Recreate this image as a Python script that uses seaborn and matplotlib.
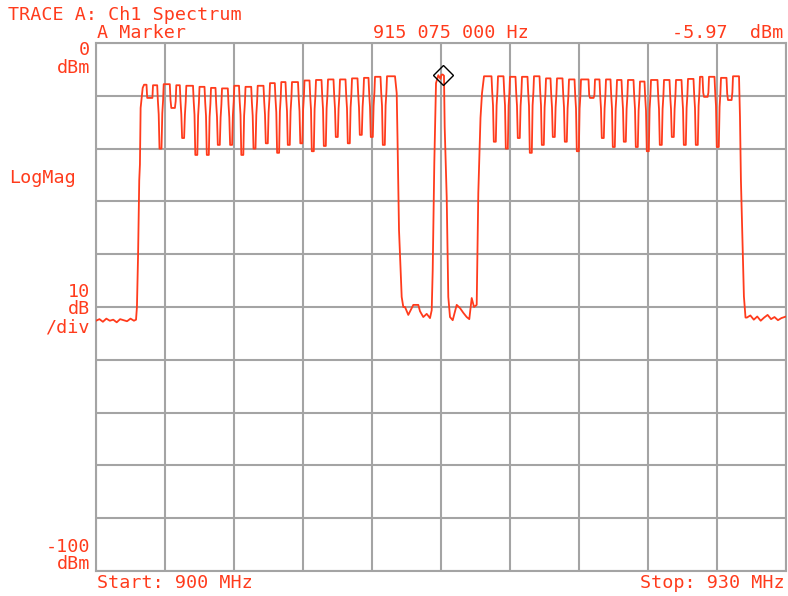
import matplotlib
matplotlib.use("Agg")
import matplotlib.pyplot as plt
import pandas as pd
import seaborn as sns

# ---- instrument settings -------------------------------------------------
START_MHZ, STOP_MHZ = 900.0, 930.0
TOP_DBM, BOTTOM_DBM = 0.0, -100.0
X_TICKS = [900, 903, 906, 909, 912, 915, 918, 921, 924, 927, 930]
Y_TICKS = [0, -10, -20, -30, -40, -50, -60, -70, -80, -90, -100]

marker_freq = 915.075
marker_level = -5.97

# ---- trace: noise floor below the first channel group --------------------
floor_a_freq = [900.00, 900.15, 900.30, 900.45, 900.60, 900.75, 900.90,
                901.05, 901.20, 901.35, 901.50, 901.65, 901.74]
floor_a_level = [-52.6, -52.3, -52.8, -52.2, -52.6, -52.4, -52.9,
                 -52.3, -52.5, -52.7, -52.2, -52.6, -52.4]

rise_a_freq = [901.78, 901.83, 901.88, 901.91, 901.94, 902.03, 902.09]
rise_a_level = [-50.0, -40.0, -26.0, -23.0, -12.3, -8.5, -7.9]

# first channel group: notch positions, notch depths, plateau levels
comb_a_dip_freq = [902.348, 902.813, 903.361, 903.796, 904.370, 904.870,
                   905.348, 905.883, 906.370, 906.900, 907.435, 907.926,
                   908.391, 908.935, 909.435, 909.957, 910.478, 911.000,
                   911.522, 912.000, 912.522]
comb_a_dip_level = [-10.4, -20.0, -12.3, -18.0, -21.2, -21.2, -19.3, -19.3,
                    -21.2, -20.0, -19.0, -20.8, -19.3, -19.0, -20.5, -19.5,
                    -17.8, -19.0, -17.4, -17.8, -19.3]
comb_a_top_level = [-7.9, -8.0, -7.8, -8.0, -8.1, -8.3, -8.5, -8.6, -8.1,
                    -8.3, -8.1, -7.6, -7.4, -7.4, -7.1, -7.0, -6.9, -6.9,
                    -6.7, -6.6, -6.4, -6.3]
comb_a_end = 913.00

fall_a_freq = [913.074, 913.109, 913.174, 913.291, 913.361]
fall_a_level = [-9.5, -18.0, -35.4, -48.1, -50.0]

floor_b_freq = [913.435, 913.578, 913.726, 913.796, 914.013, 914.087,
                914.230, 914.378, 914.522, 914.596]
floor_b_level = [-50.0, -51.5, -50.2, -49.6, -49.6, -50.8, -51.9, -51.3,
                 -52.1, -50.6]

# single carrier at the marker
peak_freq = [914.639, 914.709, 914.783, 914.883, 914.978, 915.020, 915.075,
             915.130, 915.160, 915.248, 915.317]
peak_level = [-43.1, -22.7, -7.6, -6.1, -6.8, -6.0, -5.97, -6.2, -15.9,
              -29.2, -48.1]

floor_c_freq = [915.391, 915.509, 915.683, 915.826, 915.970, 916.117,
                916.230, 916.335, 916.435, 916.552]
floor_c_level = [-51.9, -52.5, -49.6, -50.2, -51.1, -51.9, -52.3, -48.3,
                 -50.0, -49.6]

rise_b_freq = [916.622, 916.717, 916.783, 916.870]
rise_b_level = [-28.4, -14.2, -9.5, -6.3]

# second channel group
comb_b_dip_freq = [917.348, 917.870, 918.391, 918.913, 919.435, 919.913,
                   920.435, 920.957, 921.565, 922.043, 922.522, 923.000,
                   923.522, 924.000, 924.565, 925.087, 925.609, 926.130,
                   926.522, 927.043, 927.565]
comb_b_dip_level = [-18.7, -20.0, -18.0, -20.8, -19.3, -17.8, -18.7, -20.5,
                    -10.4, -18.0, -19.7, -18.7, -19.7, -20.5, -19.3, -17.8,
                    -19.3, -19.3, -10.2, -19.7, -10.8]
comb_b_top_level = [-6.3, -6.3, -6.4, -6.4, -6.3, -6.7, -6.7, -6.9, -6.9,
                    -6.9, -6.9, -7.0, -7.0, -7.3, -7.0, -7.0, -7.0, -6.8,
                    -6.4, -6.4, -6.6, -6.3]
comb_b_end = 927.957

fall_b_freq = [927.999, 928.040, 928.110, 928.170, 928.240]
fall_b_level = [-14.0, -26.0, -38.0, -48.0, -52.0]

floor_d_freq = [928.30, 928.45, 928.60, 928.75, 928.90, 929.05, 929.20,
                929.35, 929.50, 929.65, 929.80, 930.00]
floor_d_level = [-52.0, -51.6, -52.4, -51.8, -52.6, -52.0, -51.5, -52.3,
                 -51.9, -52.5, -52.1, -51.8]

# ---- display styling -----------------------------------------------------
TRACE_COLOR = "#ff3b1c"
TEXT_COLOR = "#ff3b1c"
GRID_COLOR = "#a4a4a4"
W, H = 788, 596
PX_MHZ = 30.0 / 690.0          # one screen column in MHz
FONT_SIZE = 13.2
# (column offset, which level it hangs from, dB below that level)
NOTCH_SHAPE = [(-3.5, "L", 0.0), (-2.8, "L", -3.0), (-2.0, "L", -5.5),
               (-1.2, "D", 0.0), (0.8, "D", 0.0), (1.6, "R", -5.5),
               (2.4, "R", -3.0), (3.0, "R", 0.0)]


def comb_points(dip_f, dip_l, top_l, end_f):
    """Turn notch centres/depths and plateau levels into a polyline."""
    f, l = [], []
    for i, (c, d) in enumerate(zip(dip_f, dip_l)):
        for off, ref, delta in NOTCH_SHAPE:
            f.append(c + off * PX_MHZ)
            if ref == "L":
                l.append(max(top_l[i] + delta, d))
            elif ref == "R":
                l.append(max(top_l[i + 1] + delta, d))
            else:
                l.append(d)
    f.append(end_f)
    l.append(top_l[-1])
    return f, l


ca_f, ca_l = comb_points(comb_a_dip_freq, comb_a_dip_level,
                         comb_a_top_level, comb_a_end)
cb_f, cb_l = comb_points(comb_b_dip_freq, comb_b_dip_level,
                         comb_b_top_level, comb_b_end)

freq = (floor_a_freq + rise_a_freq + ca_f + fall_a_freq + floor_b_freq
        + peak_freq + floor_c_freq + rise_b_freq + cb_f + fall_b_freq
        + floor_d_freq)
level = (floor_a_level + rise_a_level + ca_l + fall_a_level + floor_b_level
         + peak_level + floor_c_level + rise_b_level + cb_l + fall_b_level
         + floor_d_level)
trace = pd.DataFrame({"freq_mhz": freq, "level_dbm": level})

sns.set_theme(style="white")
plt.rcParams["font.family"] = ["DejaVu Sans Mono", "DejaVu Sans"]

fig = plt.figure(figsize=(W / 100, H / 100), dpi=100)
fig.patch.set_facecolor("white")
ax = fig.add_axes([96 / W, 25 / H, 690 / W, 528 / H])
ax.set_facecolor("white")

sns.lineplot(data=trace, x="freq_mhz", y="level_dbm", ax=ax, sort=False,
             estimator=None, color=TRACE_COLOR, linewidth=1.3, zorder=3)
ax.plot([marker_freq], [marker_level], marker="D", ms=10, mfc="none",
        mec="black", mew=1.0, zorder=4, linestyle="none")

ax.set_xlim(START_MHZ, STOP_MHZ)
ax.set_ylim(BOTTOM_DBM, TOP_DBM)
ax.set_xticks(X_TICKS)
ax.set_yticks(Y_TICKS)
ax.set_xticklabels([])
ax.set_yticklabels([])
ax.tick_params(length=0)
ax.set_xlabel("")
ax.set_ylabel("")
ax.grid(True, color=GRID_COLOR, linewidth=1.5, zorder=1)
for s in ax.spines.values():
    s.set_color(GRID_COLOR)
    s.set_linewidth(1.5)


def label(x, y, s, ha="left"):
    fig.text(x / W, 1 - y / H, s, ha=ha, va="baseline", color=TEXT_COLOR,
             fontsize=FONT_SIZE)


label(8, 20, "TRACE A: Ch1 Spectrum")
label(97, 38, "A Marker")
label(373, 38, f"{marker_freq * 1e6:,.0f} Hz".replace(",", " "))
label(783, 38, f"{marker_level:.2f}  dBm", ha="right")
label(90, 55, "0", ha="right")
label(90, 73, "dBm", ha="right")
label(9, 183, "LogMag")
label(90, 297, "10", ha="right")
label(90, 314, "dB", ha="right")
label(90, 332, "/div", ha="right")
label(90, 552, "-100", ha="right")
label(90, 569, "dBm", ha="right")
label(97, 588, f"Start: {START_MHZ:.0f} MHz")
label(785, 588, f"Stop: {STOP_MHZ:.0f} MHz", ha="right")

fig.savefig("out.png", dpi=100, facecolor="white")
